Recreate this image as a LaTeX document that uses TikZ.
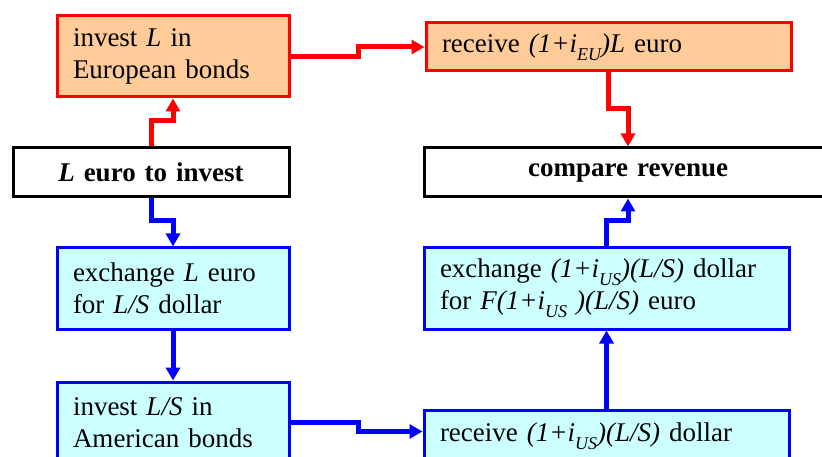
\documentclass[tikz,border=0pt]{standalone}
\usepackage{fontspec}
\setmainfont{Liberation Serif}
\usetikzlibrary{arrows.meta}
\definecolor{peach}{HTML}{FFCC99}
\definecolor{lcyan}{HTML}{CCFFFF}
\newcommand{\subtx}[1]{\raisebox{-0.28em}{\fontsize{18}{18}\selectfont #1}}
\begin{document}
\begin{tikzpicture}[x=1pt,y=-1pt,
  box/.style={line width=3pt, anchor=north west, inner xsep=16pt, inner ysep=0pt, align=left, font=\fontsize{27}{32}\selectfont},
  eubox/.style={box, draw=red, fill=peach},
  usbox/.style={box, draw=blue, fill=lcyan},
  plainbox/.style={box, draw=black, fill=white, align=center, font=\fontsize{27}{32}\selectfont\bfseries},
  conn/.style={line width=5pt, -{Triangle[width=14pt,length=13pt]}},
  redc/.style={conn, draw=red},
  bluec/.style={conn, draw=blue}
]
\path[use as bounding box] (0,0) rectangle (822,457);
\clip (0,0) rectangle (822,457);

\node[eubox, text width=200pt, minimum height=81pt] (eu1) at (55.5,14.5) {invest \textit{L} in\\European bonds};
\node[plainbox, text width=244pt, minimum height=49pt] (start) at (11.5,146.5) {\textit{L} euro to invest};
\node[eubox, text width=333pt, minimum height=48pt] (eu2) at (424.5,21.5) {receive \textit{(1+i\subtx{EU})L} euro};
\node[plainbox, text width=376pt, minimum height=49pt] (cmp) at (422.5,146.5) {compare revenue};
\node[usbox, text width=200pt, minimum height=81pt] (us1) at (55.5,246.5) {exchange \textit{L} euro\\for \textit{L/S} dollar};
\node[usbox, text width=200pt, minimum height=81pt] (us2) at (55.5,380.5) {invest \textit{L/S} in\\American bonds};
\node[usbox, text width=333pt, minimum height=81pt] (us4) at (422.5,246.5) {exchange \textit{(1+i\subtx{US})(L/S)} dollar\\for \textit{F(1+i\subtx{US} )(L/S)} euro};
\node[usbox, text width=333pt, minimum height=52pt] (us3) at (422.5,408.5) {receive \textit{(1+i\subtx{US})(L/S)} dollar};

\draw[redc] (start.north) -- (start.north |- 0,120.5) -| (eu1.south);
\draw[redc] (eu1.east) -- ++(68,0) |- (eu2.west);
\draw[redc] (eu2.south) -- (eu2.south |- 0,109) -| (cmp.north);
\draw[bluec] (start.south) -- (start.south |- 0,220.5) -| (us1.north);
\draw[bluec] (us1.south) -- (us2.north);
\draw[bluec] (us2.east) -- ++(67.5,0) |- ([yshift=4.5pt]us3.west);
\draw[bluec] (us3.north) -- (us4.south);
\draw[bluec] (us4.north) -- (us4.north |- 0,221) -| (cmp.south);
\end{tikzpicture}
\end{document}
